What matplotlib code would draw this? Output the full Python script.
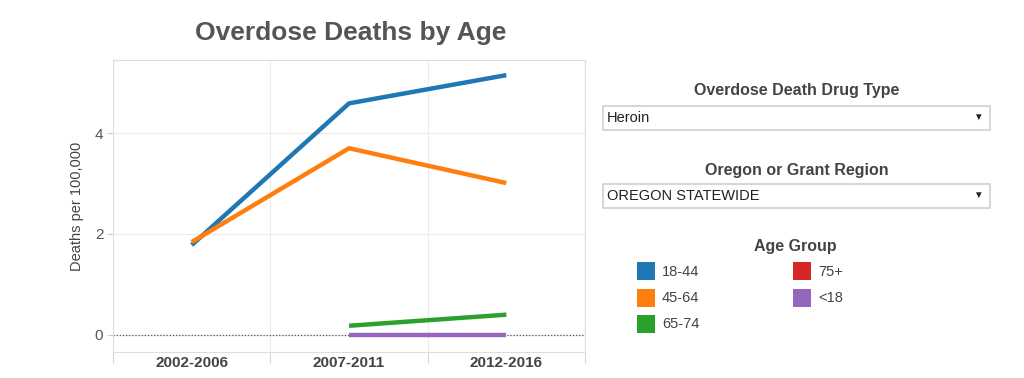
import numpy as np
import matplotlib
matplotlib.use("Agg")
import matplotlib.pyplot as plt
from matplotlib.patches import Rectangle

plt.rcParams['font.family'] = ['Liberation Sans', 'DejaVu Sans']

# data
periods = ["2002-2006", "2007-2011", "2012-2016"]
age_groups = ["18-44", "45-64", "65-74", "75+", "<18"]
colors = ["#1f77b4", "#ff7f0e", "#2ca02c", "#d62728", "#9467bd"]
rate_18_44 = [1.78, 4.59, 5.15]
rate_45_64 = [1.84, 3.70, 3.01]
rate_65_74 = [np.nan, 0.18, 0.40]
rate_75_up = [np.nan, np.nan, np.nan]
rate_under_18 = [np.nan, 0.0, 0.0]
series = [rate_18_44, rate_45_64, rate_65_74, rate_75_up, rate_under_18]

drug_type = "Heroin"
region = "OREGON STATEWIDE"

fig = plt.figure(figsize=(10.24, 3.78), dpi=100)
ax = fig.add_axes([0.1104, 0.0688, 0.4609, 0.7725])

x = np.arange(len(periods))
# zero reference line
ax.axhline(0, color="#555555", lw=0.9, ls=(0, (1, 1.5)), zorder=2)
for vals, c in zip(series, colors):
    ax.plot(x, vals, color=c, lw=3.2, solid_capstyle="butt", zorder=3)

ax.set_xlim(-0.5, 2.5)
ax.set_ylim(-0.34, 5.45)
ax.set_yticks([0, 2, 4])
ax.set_xticks(x)
ax.set_xticklabels(periods, fontsize=11, fontweight="bold", color="#444444")
ax.tick_params(axis="x", length=0, pad=3)
ax.set_xticks([-0.5, 0.5, 1.5, 2.5], minor=True)
ax.tick_params(axis="x", which="minor", length=8, color="#cccccc")
ax.tick_params(axis="y", length=4, color="#cccccc", labelsize=11,
               labelcolor="#555555", pad=3)
ax.grid(True, which="minor", axis="x", color="#ececec", lw=0.8)
ax.grid(True, which="major", axis="y", color="#ececec", lw=0.8)
ax.set_axisbelow(True)
for side in ["left", "right", "top", "bottom"]:
    ax.spines[side].set_color("#dddddd")
ax.set_ylabel("Deaths per 100,000", fontsize=10.5, color="#444444", labelpad=8)

fig.text(0.342, 0.912, "Overdose Deaths by Age", ha="center", va="center",
         fontsize=19, fontweight="bold", color="#555555")

# filter controls on the right
W, H = 1024.0, 378.0
def px(xp, yp):
    return xp / W, 1 - yp / H

for title, value, ty, by in [("Overdose Death Drug Type", drug_type, 91, 106),
                             ("Oregon or Grant Region", region, 170, 184)]:
    tx, tyf = px(797, ty)
    fig.text(tx, tyf, title, ha="center", va="center", fontsize=11.5,
             fontweight="bold", color="#444444")
    bx, byf = px(603, by + 24)
    fig.patches.append(Rectangle((bx, byf), 387 / W, 24 / H, transform=fig.transFigure,
                                 fill=False, edgecolor="#d0d0d0", lw=1.2))
    vx, vy = px(607, by + 12)
    fig.text(vx, vy, value, ha="left", va="center", fontsize=10.5, color="#222222")
    ax_, ay_ = px(978, by + 11)
    fig.text(ax_, ay_, "▼", ha="center", va="center", fontsize=7, color="#222222")

lx, ly = px(795, 246)
fig.text(lx, ly, "Age Group", ha="center", va="center", fontsize=11.5,
         fontweight="bold", color="#444444")
# legend swatches: two columns, three rows
for i, (name, c) in enumerate(zip(age_groups, colors)):
    col, row = divmod(i, 3)
    sx = 637 + col * 156
    sy = 262 + row * 26.5
    rx, ry = px(sx, sy + 18)
    fig.patches.append(Rectangle((rx, ry), 18 / W, 18 / H, transform=fig.transFigure,
                                 facecolor=c, edgecolor="none"))
    tx, ty = px(sx + 25, sy + 9.5)
    fig.text(tx, ty, name, ha="left", va="center", fontsize=10.5, color="#444444")

fig.savefig("out.png", dpi=100, facecolor="white")
